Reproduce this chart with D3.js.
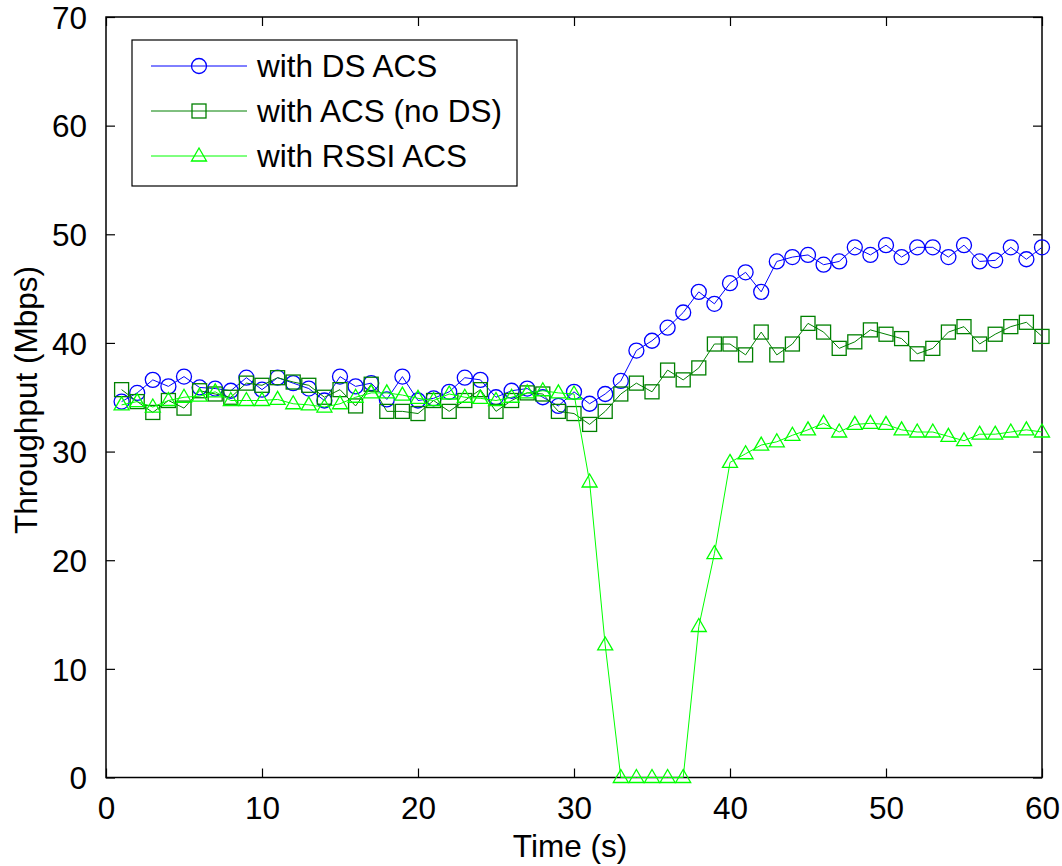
<!DOCTYPE html>
<html>
<head>
<meta charset="utf-8">
<script src="https://cdn.jsdelivr.net/npm/d3@7"></script>
<style>
  body { margin: 0; background: #fff; }
  svg { font-family: "Liberation Sans", Arial, sans-serif; }
</style>
</head>
<body>
<svg id="chart"></svg>
<script>
const width = 1062;
const height = 866;
const fontSize = '31.5px';

// time axis (s)
const times = d3.range(1, 61);

// throughput values (Mbps)
const dsAcs = [
  34.6, 35.4, 36.6, 36.0, 36.9, 35.9, 35.8, 35.6, 36.8, 35.7,
  36.8, 36.3, 35.8, 34.7, 36.9, 36.0, 36.3, 34.8, 36.9, 34.7,
  34.9, 35.5, 36.8, 36.6, 35.0, 35.6, 35.8, 35.0, 34.2, 35.5,
  34.4, 35.3, 36.5, 39.3, 40.2, 41.4, 42.8, 44.7, 43.6, 45.5,
  46.5, 44.7, 47.5, 47.9, 48.1, 47.2, 47.5, 48.8, 48.1, 49.0,
  47.9, 48.8, 48.8, 47.9, 49.0, 47.5, 47.6, 48.8, 47.7, 48.8
];
const acsNoDs = [
  35.7, 34.6, 33.6, 34.7, 34.0, 35.6, 35.3, 35.0, 36.3, 36.1,
  36.8, 36.4, 36.1, 35.0, 35.7, 34.2, 36.2, 33.7, 33.7, 33.5,
  34.7, 33.7, 34.7, 35.7, 33.7, 34.7, 35.4, 35.3, 33.7, 33.5,
  32.5, 33.7, 35.3, 36.3, 35.5, 37.5, 36.6, 37.7, 39.9, 39.9,
  38.9, 41.0, 38.9, 39.9, 41.8, 41.0, 39.5, 40.1, 41.2, 40.8,
  40.4, 39.0, 39.5, 41.0, 41.5, 39.9, 40.8, 41.5, 41.9, 40.6
];
const rssiAcs = [
  34.3, 34.6, 34.1, 34.7, 35.0, 35.1, 35.5, 34.7, 34.7, 34.7,
  34.8, 34.4, 34.3, 34.1, 34.4, 35.0, 35.4, 35.4, 35.2, 34.9,
  34.7, 35.3, 35.0, 34.9, 34.7, 35.0, 35.4, 35.6, 35.4, 35.3,
  27.2, 12.2, 0.0, 0.0, 0.0, 0.0, 0.0, 13.9, 20.6, 29.0,
  29.8, 30.6, 30.9, 31.5, 32.0, 32.6, 31.8, 32.5, 32.6, 32.5,
  32.0, 31.8, 31.8, 31.4, 31.0, 31.6, 31.6, 31.8, 32.0, 31.8
];

const seriesNames = ['with DS ACS', 'with ACS (no DS)', 'with RSSI ACS'];
const seriesColors = ['#0000ff', '#008000', '#00ff00'];
const seriesMarkers = ['circle', 'square', 'triangle'];
const xTicks = [0, 10, 20, 30, 40, 50, 60];
const yTicks = [0, 10, 20, 30, 40, 50, 60, 70];

const plotLeft = 106, plotRight = 1042, plotTop = 17, plotBottom = 777.5;
const tickLen = 9;

const svg = d3.select('#chart')
    .attr('width', width)
    .attr('height', height);

const x = d3.scaleLinear().domain([0, 60]).range([plotLeft, plotRight]);
const y = d3.scaleLinear().domain([0, 70]).range([plotBottom, plotTop]);

// axes, MATLAB style: ticks pointing inward on all four sides
const xAxisB = svg.append('g')
    .attr('transform', `translate(0, ${plotBottom})`)
    .call(d3.axisBottom(x).tickValues(xTicks).tickSizeInner(-tickLen).tickSizeOuter(0).tickPadding(19));
const xAxisT = svg.append('g')
    .attr('transform', `translate(0, ${plotTop})`)
    .call(d3.axisTop(x).tickValues(xTicks).tickSizeInner(-tickLen).tickSizeOuter(0).tickFormat(''));
const yAxisL = svg.append('g')
    .attr('transform', `translate(${plotLeft}, 0)`)
    .call(d3.axisLeft(y).tickValues(yTicks).tickSizeInner(-tickLen).tickSizeOuter(0).tickPadding(19));
const yAxisR = svg.append('g')
    .attr('transform', `translate(${plotRight}, 0)`)
    .call(d3.axisRight(y).tickValues(yTicks).tickSizeInner(-tickLen).tickSizeOuter(0).tickFormat(''));

[xAxisB, xAxisT, yAxisL, yAxisR].forEach(a => {
    a.select('.domain').remove();
    a.selectAll('line').attr('stroke', '#000').attr('stroke-width', 1.2);
    a.selectAll('text')
        .attr('fill', '#000')
        .style('font-family', '"Liberation Sans", Arial, sans-serif')
        .style('font-size', fontSize);
});
yAxisL.selectAll('text').attr('dy', '0.36em');
xAxisB.selectAll('text').attr('dy', '0.71em');

svg.append('rect')
    .attr('x', plotLeft).attr('y', plotTop)
    .attr('width', plotRight - plotLeft).attr('height', plotBottom - plotTop)
    .attr('fill', 'none').attr('stroke', '#000').attr('stroke-width', 1.5);

// axis titles
svg.append('text')
    .attr('x', (plotLeft + plotRight) / 2 - 4)
    .attr('y', 857)
    .attr('text-anchor', 'middle')
    .style('font-size', fontSize)
    .text('Time (s)');

svg.append('text')
    .attr('transform', 'translate(37, 400) rotate(-90)')
    .attr('text-anchor', 'middle')
    .style('font-size', fontSize)
    .text('Throughput (Mbps)');

function drawMarker(g, type, color, cx, cy) {
    if (type === 'circle') {
        g.append('circle').attr('cx', cx).attr('cy', cy).attr('r', 7.5)
            .attr('fill', 'none').attr('stroke', color).attr('stroke-width', 1.3);
    } else if (type === 'square') {
        g.append('rect').attr('x', cx - 7).attr('y', cy - 7).attr('width', 14).attr('height', 14)
            .attr('fill', 'none').attr('stroke', color).attr('stroke-width', 1.3);
    } else {
        g.append('path')
            .attr('d', `M${cx},${cy - 8}L${cx + 7.5},${cy + 5}L${cx - 7.5},${cy + 5}Z`)
            .attr('fill', 'none').attr('stroke', color).attr('stroke-width', 1.3);
    }
}

const allSeries = [dsAcs, acsNoDs, rssiAcs];

const line = d3.line()
    .x((d, i) => x(times[i]))
    .y(d => y(d));

allSeries.forEach((values, k) => {
    const g = svg.append('g');
    g.append('path')
        .datum(values)
        .attr('fill', 'none')
        .attr('stroke', seriesColors[k])
        .attr('stroke-width', 1)
        .attr('d', line);
    values.forEach((v, i) => drawMarker(g, seriesMarkers[k], seriesColors[k], x(times[i]), y(v)));
});

// legend
const legend = svg.append('g');
legend.append('rect')
    .attr('x', 132).attr('y', 40)
    .attr('width', 385).attr('height', 146)
    .attr('fill', '#fff').attr('stroke', '#000').attr('stroke-width', 1.2);

seriesNames.forEach((name, k) => {
    const ly = 66 + k * 45;
    legend.append('line')
        .attr('x1', 151).attr('x2', 247)
        .attr('y1', ly).attr('y2', ly)
        .attr('stroke', seriesColors[k]).attr('stroke-width', 1);
    drawMarker(legend, seriesMarkers[k], seriesColors[k], 199, ly);
    legend.append('text')
        .attr('x', 257).attr('y', ly)
        .attr('dy', '0.36em')
        .style('font-size', fontSize)
        .text(name);
});
</script>
</body>
</html>
